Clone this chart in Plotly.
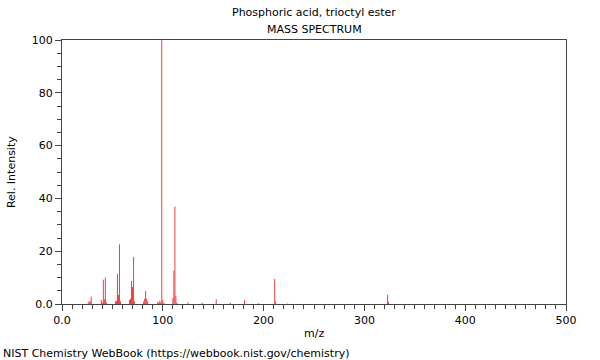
import plotly.graph_objects as go

title_lines = ["Phosphoric acid, trioctyl ester", "MASS SPECTRUM"]
footer = "NIST Chemistry WebBook (https://webbook.nist.gov/chemistry)"

mz = [26, 27, 28, 29, 39, 40, 41, 42, 43, 44,
      53, 54, 55, 56, 57, 58, 67, 68, 69, 70,
      71, 72, 81, 82, 83, 84, 85, 95, 96, 97,
      98, 99, 100, 101, 110, 111, 112, 113, 114, 125,
      139, 153, 167, 181, 195, 211, 212, 224, 323, 324]
intensity = [0.6, 1.0, 1.0, 2.8, 1.5, 0.5, 9.2, 1.8, 10.0, 0.7,
             1.0, 1.2, 11.4, 3.4, 22.6, 1.0, 1.5, 2.0, 8.8, 6.4,
             17.8, 1.0, 1.0, 2.0, 4.9, 2.0, 1.0, 0.8, 0.5, 1.2,
             0.6, 100.0, 1.5, 0.4, 2.3, 12.6, 36.9, 3.0, 0.5, 0.6,
             0.5, 1.8, 0.4, 1.5, 0.3, 9.5, 0.9, 0.2, 3.5, 0.8]

x_tickvals = [0, 100, 200, 300, 400, 500]
x_ticktext = ["0.0", "100", "200", "300", "400", "500"]
y_tickvals = [0, 20, 40, 60, 80, 100]
y_ticktext = ["0.0", "20", "40", "60", "80", "100"]

xs, ys = [], []
for m, v in zip(mz, intensity):
    xs += [m, m, None]
    ys += [0, v, None]

fig = go.Figure()
fig.add_trace(go.Scatter(x=xs, y=ys, mode="lines",
                         line=dict(color="rgb(240,60,60)", width=1),
                         hoverinfo="skip", showlegend=False))

font = dict(family="DejaVu Sans", size=11, color="#000")
axis_common = dict(showgrid=False, zeroline=False, showline=True,
                   linecolor="#444", linewidth=1, mirror=True,
                   ticks="outside", ticklen=6, tickcolor="#444",
                   tickfont=font, tickmode="array")
fig.update_xaxes(range=[0, 500], tickvals=x_tickvals, ticktext=x_ticktext,
                 minor=dict(dtick=10, tick0=0, ticks="outside", ticklen=4, tickcolor="#444"),
                 **axis_common)
fig.update_yaxes(range=[0, 100], tickvals=y_tickvals, ticktext=y_ticktext,
                 minor=dict(dtick=5, tick0=0, ticks="outside", ticklen=4, tickcolor="#444"),
                 **axis_common)

ann = [
    dict(text=title_lines[0], x=0.5, y=1.106, xref="paper", yref="paper",
         showarrow=False, font=font, xanchor="center", yanchor="middle"),
    dict(text=title_lines[1], x=0.5, y=1.040, xref="paper", yref="paper",
         showarrow=False, font=font, xanchor="center", yanchor="middle"),
    dict(text="m/z", x=0.5, y=-0.11, xref="paper", yref="paper",
         showarrow=False, font=font, xanchor="center", yanchor="middle"),
    dict(text="Rel. Intensity", x=-0.101, y=0.5, xref="paper", yref="paper",
         showarrow=False, font=font, xanchor="center", yanchor="middle", textangle=-90),
    dict(text=footer, x=-0.121, y=-0.186, xref="paper", yref="paper",
         showarrow=False, font=font, xanchor="left", yanchor="middle"),
]

fig.update_layout(width=600, height=360,
                  margin=dict(l=62, r=34, t=40, b=56),
                  paper_bgcolor="white", plot_bgcolor="white",
                  font=font, annotations=ann)

fig.write_html("out.html", config={"displayModeBar": False},
               post_script="document.body.style.margin='0';document.body.style.overflow='hidden';")
